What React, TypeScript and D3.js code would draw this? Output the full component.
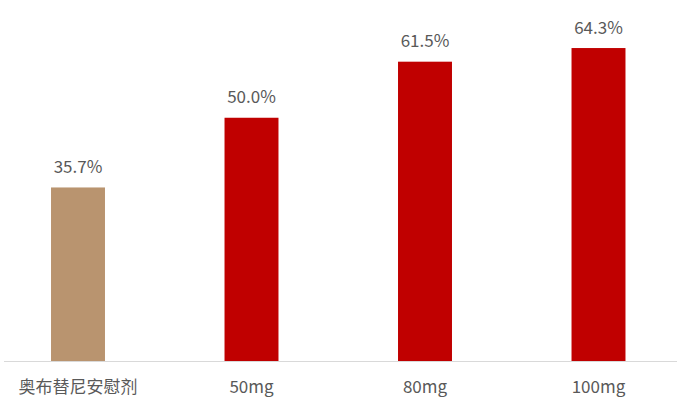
import React from "react";
import * as d3 from "d3";

const categories = ["奥布替尼安慰剂", "50mg", "80mg", "100mg"];
const values = [35.7, 50.0, 61.5, 64.3];
const barColors = ["#B9946F", "#C00000", "#C00000", "#C00000"];

const W = 677;
const H = 398;

export default function App() {
  const x = d3
    .scaleBand<string>()
    .domain(categories)
    .range([-8.75, 685.25])
    .paddingInner(0.689)
    .paddingOuter(0.3445);
  const y = d3.scaleLinear().domain([0, 70]).range([361.5, 361.5 - 70 * 4.875]);
  const font = "'Microsoft YaHei', 'Noto Sans CJK SC', sans-serif";
  return (
    <svg
      width={W}
      height={H}
      style={{ position: "absolute", left: 0, top: 0, background: "#fff" }}
    >
      {categories.map((c, i) => {
        const bx = x(c)!;
        const bw = x.bandwidth();
        const top = y(values[i]);
        return (
          <g key={c}>
            <rect x={bx} y={top} width={bw} height={y(0) - top} fill={barColors[i]} />
            <text
              x={bx + bw / 2}
              y={top - 14.5}
              textAnchor="middle"
              fontSize={17}
              fill="#595959"
              fontFamily={font}
            >
              {values[i].toFixed(1) + "%"}
            </text>
            <text
              x={bx + bw / 2}
              y={393}
              textAnchor="middle"
              fontSize={17}
              fill="#595959"
              fontFamily={font}
            >
              {c}
            </text>
          </g>
        );
      })}
      <line x1={4} x2={677} y1={361.5} y2={361.5} stroke="#D9D9D9" strokeWidth={1} />
    </svg>
  );
}
